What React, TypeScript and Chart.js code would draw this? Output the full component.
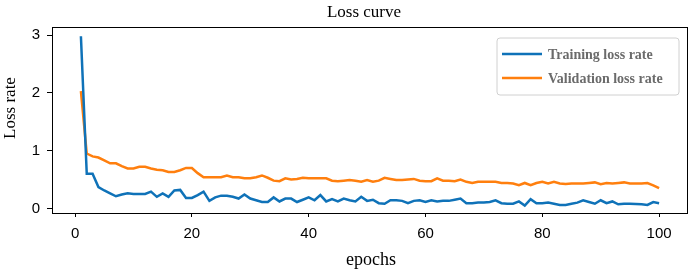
import React, { useEffect, useRef } from "react";
import { Chart, registerables } from "chart.js";

Chart.register(...registerables);

const epochs = [
  1, 2, 3, 4, 5, 6, 7, 8, 9, 10, 11, 12, 13, 14, 15, 16, 17, 18, 19, 20,
  21, 22, 23, 24, 25, 26, 27, 28, 29, 30, 31, 32, 33, 34, 35, 36, 37, 38, 39, 40,
  41, 42, 43, 44, 45, 46, 47, 48, 49, 50, 51, 52, 53, 54, 55, 56, 57, 58, 59, 60,
  61, 62, 63, 64, 65, 66, 67, 68, 69, 70, 71, 72, 73, 74, 75, 76, 77, 78, 79, 80,
  81, 82, 83, 84, 85, 86, 87, 88, 89, 90, 91, 92, 93, 94, 95, 96, 97, 98, 99, 100,
];

const trainingLoss = [
  2.98, 0.6, 0.6, 0.37, 0.31, 0.26, 0.21, 0.24, 0.26, 0.25,
  0.25, 0.25, 0.29, 0.2, 0.26, 0.2, 0.31, 0.32, 0.18, 0.18,
  0.23, 0.29, 0.13, 0.19, 0.22, 0.22, 0.2, 0.17, 0.24, 0.17,
  0.14, 0.11, 0.11, 0.19, 0.12, 0.17, 0.17, 0.11, 0.15, 0.19,
  0.14, 0.23, 0.12, 0.16, 0.12, 0.17, 0.14, 0.12, 0.2, 0.13,
  0.15, 0.09, 0.08, 0.14, 0.14, 0.13, 0.09, 0.13, 0.14, 0.11,
  0.14, 0.12, 0.13, 0.13, 0.15, 0.17, 0.09, 0.09, 0.1, 0.1,
  0.11, 0.14, 0.09, 0.08, 0.08, 0.12, 0.05, 0.16, 0.09, 0.09,
  0.1, 0.08, 0.06, 0.06, 0.08, 0.1, 0.14, 0.11, 0.08, 0.14,
  0.09, 0.12, 0.07, 0.08, 0.08, 0.075, 0.07, 0.06, 0.11, 0.09,
];

const validationLoss = [
  2.03, 0.95, 0.9, 0.88, 0.83, 0.78, 0.78, 0.73, 0.69, 0.69,
  0.72, 0.72, 0.69, 0.67, 0.66, 0.63, 0.63, 0.66, 0.7, 0.7,
  0.61, 0.54, 0.54, 0.54, 0.54, 0.57, 0.54, 0.54, 0.52, 0.52,
  0.54, 0.57, 0.53, 0.48, 0.47, 0.52, 0.5, 0.51, 0.53, 0.52,
  0.52, 0.52, 0.52, 0.48, 0.47, 0.48, 0.49, 0.48, 0.46, 0.49,
  0.46, 0.48, 0.53, 0.51, 0.49, 0.49, 0.5, 0.51, 0.48, 0.47,
  0.47, 0.52, 0.48, 0.48, 0.47, 0.5, 0.46, 0.44, 0.46, 0.46,
  0.46, 0.46, 0.44, 0.44, 0.43, 0.4, 0.44, 0.4, 0.44, 0.46,
  0.43, 0.46, 0.43, 0.42, 0.43, 0.43, 0.43, 0.44, 0.45, 0.42,
  0.44, 0.43, 0.44, 0.45, 0.43, 0.43, 0.43, 0.44, 0.4, 0.35,
];

const seriesNames = ["Training loss rate", "Validation loss rate"];
const seriesColors = ["#0f72b8", "#ff7f0e"];
const titleText = "Loss curve";
const xTitle = "epochs";
const yTitle = "Loss rate";

const SERIF = "'Liberation Serif', 'Times New Roman', serif";
const SANS = "'Liberation Sans', Arial, sans-serif";

const decorPlugin = {
  id: "decor",
  afterDraw(chart: any) {
    const ctx = chart.ctx as CanvasRenderingContext2D;
    const a = chart.chartArea;
    ctx.save();
    // frame
    ctx.strokeStyle = "#000";
    ctx.lineWidth = 1;
    ctx.strokeRect(Math.round(a.left) + 0.5, Math.round(a.top) + 0.5, Math.round(a.right - a.left) - 1, Math.round(a.bottom - a.top));
    // title
    ctx.fillStyle = "#000";
    ctx.font = `17px ${SERIF}`;
    ctx.textAlign = "center";
    ctx.textBaseline = "alphabetic";
    ctx.fillText(titleText, 364, 17);
    // x title
    ctx.font = `18px ${SERIF}`;
    ctx.fillText(xTitle, 371, 265);
    // y title
    ctx.save();
    ctx.translate(15, 108);
    ctx.rotate(-Math.PI / 2);
    ctx.font = `17px ${SERIF}`;
    ctx.textBaseline = "alphabetic";
    ctx.fillText(yTitle, 0, 0);
    ctx.restore();
    // legend
    const lx = 497, ly = 38, lw = 182, lh = 57, r = 3;
    ctx.beginPath();
    ctx.moveTo(lx + r, ly);
    ctx.lineTo(lx + lw - r, ly);
    ctx.arcTo(lx + lw, ly, lx + lw, ly + r, r);
    ctx.lineTo(lx + lw, ly + lh - r);
    ctx.arcTo(lx + lw, ly + lh, lx + lw - r, ly + lh, r);
    ctx.lineTo(lx + r, ly + lh);
    ctx.arcTo(lx, ly + lh, lx, ly + lh - r, r);
    ctx.lineTo(lx, ly + r);
    ctx.arcTo(lx, ly, lx + r, ly, r);
    ctx.closePath();
    ctx.fillStyle = "rgba(255,255,255,0.85)";
    ctx.fill();
    ctx.strokeStyle = "#d0d0d0";
    ctx.lineWidth = 1;
    ctx.stroke();
    const rows = [54, 78];
    seriesNames.forEach((name, i) => {
      const y = rows[i];
      ctx.strokeStyle = seriesColors[i];
      ctx.lineWidth = 2.5;
      ctx.beginPath();
      ctx.moveTo(502, y);
      ctx.lineTo(542, y);
      ctx.stroke();
      ctx.fillStyle = "#6b6b6b";
      ctx.font = `bold 14px ${SERIF}`;
      ctx.textAlign = "left";
      ctx.textBaseline = "middle";
      ctx.fillText(name, 548, y + 1);
    });
    ctx.restore();
  },
};

export default function App() {
  const canvasRef = useRef<HTMLCanvasElement | null>(null);

  useEffect(() => {
    document.body.style.margin = "0";
    const canvas = canvasRef.current;
    if (!canvas) return;
    const chart = new Chart(canvas, {
      type: "line",
      data: {
        datasets: [
          {
            label: seriesNames[0],
            data: epochs.map((e, i) => ({ x: e, y: trainingLoss[i] })),
            borderColor: seriesColors[0],
            backgroundColor: seriesColors[0],
            borderWidth: 2.5,
            pointRadius: 0,
            tension: 0,
          },
          {
            label: seriesNames[1],
            data: epochs.map((e, i) => ({ x: e, y: validationLoss[i] })),
            borderColor: seriesColors[1],
            backgroundColor: seriesColors[1],
            borderWidth: 2.5,
            pointRadius: 0,
            tension: 0,
          },
        ],
      },
      options: {
        responsive: false,
        animation: false,
        layout: { padding: { top: 27, right: 4, left: 0, bottom: 0 } },
        plugins: {
          legend: { display: false },
          title: { display: false },
          tooltip: { enabled: false },
        },
        scales: {
          x: {
            type: "linear",
            min: -3.95,
            max: 104.95,
            border: { display: false },
            grid: {
              drawOnChartArea: false,
              drawTicks: true,
              tickLength: 4,
              color: "#000",
            },
            ticks: {
              stepSize: 20,
              includeBounds: false,
              color: "#000",
              padding: 8,
              font: { family: SANS, size: 15 },
              maxRotation: 0,
            },
            afterFit: (scale: any) => {
              scale.height = 57;
            },
          },
          y: {
            type: "linear",
            min: -0.08,
            max: 3.14,
            border: { display: false },
            grid: {
              drawOnChartArea: false,
              drawTicks: true,
              tickLength: 5,
              color: "#000",
            },
            ticks: {
              stepSize: 1,
              includeBounds: false,
              color: "#000",
              padding: 7,
              font: { family: SANS, size: 15 },
            },
            afterFit: (scale: any) => {
              scale.width = 52;
            },
          },
        },
      },
      plugins: [decorPlugin],
    });
    return () => chart.destroy();
  }, []);

  return (
    <div style={{ width: 692, height: 270 }}>
      <canvas ref={canvasRef} width={692} height={270} style={{ display: "block" }} />
    </div>
  );
}
